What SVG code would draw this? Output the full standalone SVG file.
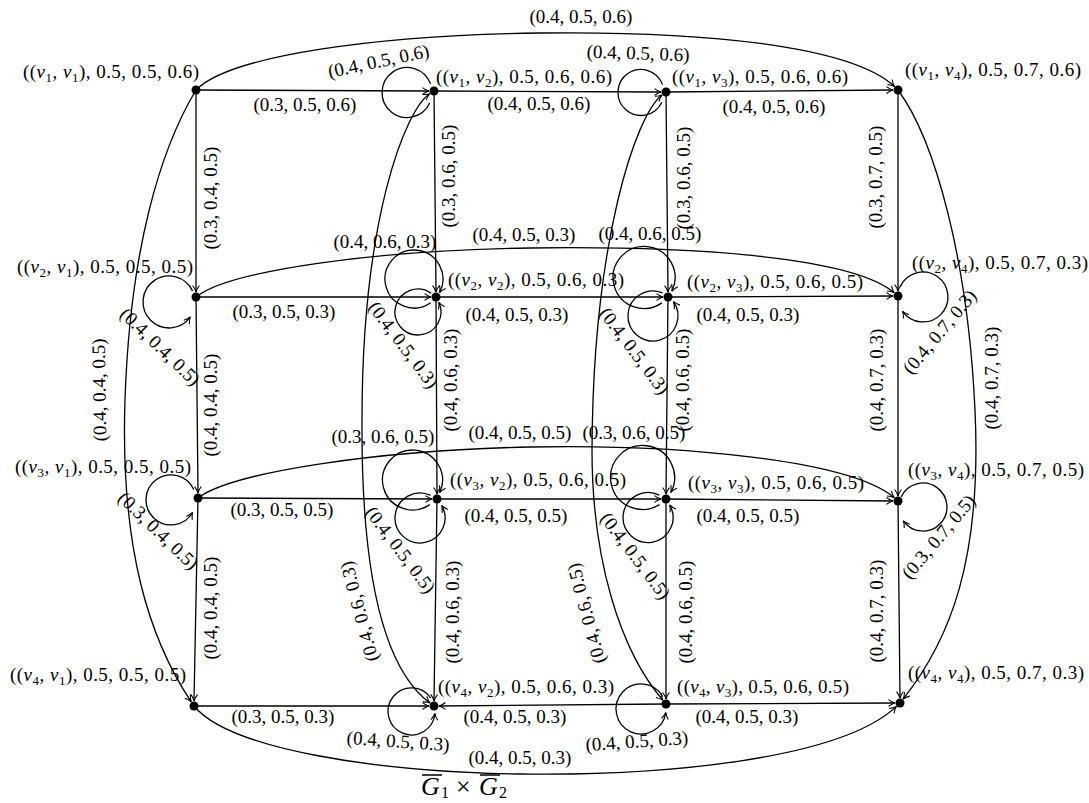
<svg xmlns="http://www.w3.org/2000/svg" width="1089" height="803" viewBox="0 0 1089 803">
<style>
.e{fill:none;stroke:#000;stroke-width:1.3}
.a{marker-end:url(#ar)}
.l{font-family:"Liberation Serif","Times New Roman",serif;font-size:19px;fill:#000}
.i{font-style:italic}
.s{font-size:13px}
.d{fill:#000}
</style>
<defs>
<marker id="ar" viewBox="-7 -5 8 10" refX="0" refY="0" markerWidth="8" markerHeight="10" markerUnits="userSpaceOnUse" orient="auto-start-reverse">
<path d="M-6.5,-3.4 C-3.8,-1.3 -1.6,-0.4 0,0 C-1.6,0.4 -3.8,1.3 -6.5,3.4" fill="none" stroke="#000" stroke-width="1.1"/>
</marker>
</defs>
<rect width="1089" height="803" fill="#fff"/>

<g id="connectors">
<!-- straight horizontal -->
<path class="e a" d="M196,90 L429,91"/>
<path class="e a" d="M434,91 L661,92"/>
<path class="e a" d="M666,92 L893,90"/>
<path class="e a" d="M196,297 L431,297"/>
<path class="e a" d="M436,297 L663,297"/>
<path class="e a" d="M668,297 L893,296"/>
<path class="e a" d="M198,498 L432,499"/>
<path class="e a" d="M437,499 L661,499"/>
<path class="e a" d="M666,499 L893,501"/>
<path class="e a" d="M194,706 L429,706"/>
<path class="e a" d="M666,704 L439,706"/>
<path class="e a" d="M666,704 L895,703"/>
<!-- straight vertical -->
<path class="e a" d="M196,90 L196,292"/>
<path class="e a" d="M196,297 L198,493"/>
<path class="e a" d="M198,498 L194,701"/>
<path class="e a" d="M434,91 L436,292"/>
<path class="e a" d="M436,297 L437,494"/>
<path class="e a" d="M437,499 L434,701"/>
<path class="e a" d="M666,92 L668,292"/>
<path class="e a" d="M668,297 L666,494"/>
<path class="e a" d="M666,499 L666,699"/>
<path class="e a" d="M898,90 L898,291"/>
<path class="e a" d="M898,296 L898,496"/>
<path class="e a" d="M898,501 L900,698"/>
<!-- long curves -->
<path class="e a" d="M196,90 C230,55 380,35 540,33 S850,45 894.5,86.5"/>
<path class="e a" d="M196,297 C230,270 380,250 530,248 S850,255 894.2,292.7"/>
<path class="e a" d="M198,498 C232,472 380,450 530,447 S850,460 894.2,497.7"/>
<path class="e a" d="M194,706 C230,750 380,772 520,774 S840,760 896.4,706.4"/>
<path class="e a" d="M196,90 C160,150 130,250 125,400 S150,640 191.2,701.8"/>
<path class="e a" d="M898,90 C935,140 968,260 975,410 S950,640 903.1,699.1"/>
<path class="e a" style="marker-start:url(#ar)" d="M429.8,93.7 C405,110 362,220 362,420 C361,580 385,670 430,703"/>
<path class="e a" style="marker-start:url(#ar)" d="M662,95 C636,115 593,240 592,450 C592,560 620,650 662.8,700.2"/>
<!-- loops -->
<path class="e" d="M430.5,83.9 A25,25 0 1 0 429.7,103.1"/>
<path class="e" d="M662.6,84.6 A23,23 0 1 0 661.8,102.2"/>
<path class="e a" d="M192.6,291 A26,26 0 1 0 190.3,316.9"/>
<path class="e a" d="M193.7,489.4 A25,25 0 1 0 192.6,512.5"/>
<path class="e a" d="M900.3,286.4 A25,25 0 1 1 902.5,311.3"/>
<path class="e a" d="M901.2,496.9 A24,24 0 1 1 903.3,520.8"/>
<path class="e a" d="M430.6,302.8 A29,29 0 1 1 439.6,292.6"/>
<path class="e a" d="M431.2,293.2 A23,23 0 1 0 438.8,302.3"/>
<path class="e a" d="M661.8,302.9 A31,31 0 1 1 671.9,291.1"/>
<path class="e a" d="M662.4,292.8 A25,25 0 1 0 673.5,301.7"/>
<path class="e a" d="M429.7,504.6 A30,30 0 1 1 439.7,492.7"/>
<path class="e a" d="M430.6,495.3 A25,25 0 1 0 441.7,505.5"/>
<path class="e a" d="M659.5,504.6 A32,32 0 1 1 670.8,492.5"/>
<path class="e a" d="M659.3,495.2 A25,25 0 1 0 669.7,505"/>
<path class="e a" d="M430.8,698 A23.5,23.5 0 1 0 434.9,713.5"/>
<path class="e a" d="M662.7,696.5 A25,25 0 1 0 665.8,712.5"/>

<!-- edge labels -->
<g class="l" text-anchor="middle">
<text x="581" y="23">(0.4, 0.5, 0.6)</text>
<text x="305" y="111">(0.3, 0.5, 0.6)</text>
<text x="539" y="110">(0.4, 0.5, 0.6)</text>
<text x="774" y="113">(0.4, 0.5, 0.6)</text>
<text x="524" y="241">(0.4, 0.5, 0.3)</text>
<text x="284" y="318">(0.3, 0.5, 0.3)</text>
<text x="517" y="321">(0.4, 0.5, 0.3)</text>
<text x="748" y="321">(0.4, 0.5, 0.3)</text>
<text x="520" y="439">(0.4, 0.5, 0.5)</text>
<text x="282" y="516">(0.3, 0.5, 0.5)</text>
<text x="516" y="522">(0.4, 0.5, 0.5)</text>
<text x="748" y="522">(0.4, 0.5, 0.5)</text>
<text x="283" y="723">(0.3, 0.5, 0.3)</text>
<text x="515" y="723">(0.4, 0.5, 0.3)</text>
<text x="747" y="723">(0.4, 0.5, 0.3)</text>
<text x="520" y="764">(0.4, 0.5, 0.3)</text>
<text x="385" y="248">(0.4, 0.6, 0.3)</text>
<text x="650" y="239.5">(0.4, 0.6, 0.5)</text>
<text x="383" y="442.5">(0.3, 0.6, 0.5)</text>
<text x="634" y="438.5">(0.3, 0.6, 0.5)</text>
<text transform="translate(379,63) rotate(-12)" y="4.5">(0.4, 0.5, 0.6)</text>
<text transform="translate(638,55) rotate(2)" y="4.5">(0.4, 0.5, 0.6)</text>
<text transform="translate(398,743) rotate(4)" y="4.5">(0.4, 0.5, 0.3)</text>
<text transform="translate(637,743) rotate(-4)" y="4.5">(0.4, 0.5, 0.3)</text>
<text transform="translate(159,348) rotate(44)" y="4.5">(0.4, 0.4, 0.5)</text>
<text transform="translate(157,532) rotate(44)" y="4.5">(0.3, 0.4, 0.5)</text>
<text transform="translate(402,346) rotate(53)" y="4.5">(0.4, 0.5, 0.3)</text>
<text transform="translate(633,352) rotate(53)" y="4.5">(0.4, 0.5, 0.3)</text>
<text transform="translate(399,551) rotate(53)" y="4.5">(0.4, 0.5, 0.5)</text>
<text transform="translate(634,557) rotate(53)" y="4.5">(0.4, 0.5, 0.5)</text>
<text transform="translate(941,333) rotate(-50)" y="4.5">(0.4, 0.7, 0.3)</text>
<text transform="translate(940,538) rotate(-50)" y="4.5">(0.3, 0.7, 0.5)</text>
<text transform="translate(212.5,198) rotate(-90)" y="4.5">(0.3, 0.4, 0.5)</text>
<text transform="translate(212.5,405) rotate(-90)" y="4.5">(0.4, 0.4, 0.5)</text>
<text transform="translate(212.5,608) rotate(-90)" y="4.5">(0.4, 0.4, 0.5)</text>
<text transform="translate(101,390) rotate(-91)" y="4.5">(0.4, 0.4, 0.5)</text>
<text transform="translate(450.5,176) rotate(-90)" y="4.5">(0.3, 0.6, 0.5)</text>
<text transform="translate(452.5,380) rotate(-90)" y="4.5">(0.4, 0.6, 0.3)</text>
<text transform="translate(454.5,612) rotate(-90)" y="4.5">(0.4, 0.6, 0.3)</text>
<text transform="translate(685.5,178) rotate(-90)" y="4.5">(0.3, 0.6, 0.5)</text>
<text transform="translate(684.5,380) rotate(-90)" y="4.5">(0.4, 0.6, 0.5)</text>
<text transform="translate(687.5,612) rotate(-90)" y="4.5">(0.4, 0.6, 0.5)</text>
<text transform="translate(877.5,177) rotate(-90)" y="4.5">(0.3, 0.7, 0.5)</text>
<text transform="translate(878.5,380) rotate(-90)" y="4.5">(0.4, 0.7, 0.3)</text>
<text transform="translate(878.5,611) rotate(-90)" y="4.5">(0.4, 0.7, 0.3)</text>
<text transform="translate(993.5,378) rotate(-90)" y="4.5">(0.4, 0.7, 0.3)</text>
<text transform="translate(361,611) rotate(-105)" y="4.5">(0.4, 0.6, 0.3)</text>
<text transform="translate(588,613) rotate(-105)" y="4.5">(0.4, 0.6, 0.5)</text>
</g>
</g>

<g id="n11"><circle class="d" cx="196" cy="90" r="4.5"/><text class="l" x="23" y="78" textLength="176">((<tspan class="i">v</tspan><tspan class="s" dy="4">1</tspan><tspan dy="-4">, </tspan><tspan class="i">v</tspan><tspan class="s" dy="4">1</tspan><tspan dy="-4">), 0.5, 0.5, 0.6)</tspan></text></g>
<g id="n12"><circle class="d" cx="434" cy="91" r="4.5"/><text class="l" x="436" y="83" textLength="176">((<tspan class="i">v</tspan><tspan class="s" dy="4">1</tspan><tspan dy="-4">, </tspan><tspan class="i">v</tspan><tspan class="s" dy="4">2</tspan><tspan dy="-4">), 0.5, 0.6, 0.6)</tspan></text></g>
<g id="n13"><circle class="d" cx="666" cy="92" r="4.5"/><text class="l" x="672" y="83" textLength="176">((<tspan class="i">v</tspan><tspan class="s" dy="4">1</tspan><tspan dy="-4">, </tspan><tspan class="i">v</tspan><tspan class="s" dy="4">3</tspan><tspan dy="-4">), 0.5, 0.6, 0.6)</tspan></text></g>
<g id="n14"><circle class="d" cx="898" cy="90" r="4.5"/><text class="l" x="905" y="76" textLength="176">((<tspan class="i">v</tspan><tspan class="s" dy="4">1</tspan><tspan dy="-4">, </tspan><tspan class="i">v</tspan><tspan class="s" dy="4">4</tspan><tspan dy="-4">), 0.5, 0.7, 0.6)</tspan></text></g>
<g id="n21"><circle class="d" cx="196" cy="297" r="4.5"/><text class="l" x="17" y="273" textLength="176">((<tspan class="i">v</tspan><tspan class="s" dy="4">2</tspan><tspan dy="-4">, </tspan><tspan class="i">v</tspan><tspan class="s" dy="4">1</tspan><tspan dy="-4">), 0.5, 0.5, 0.5)</tspan></text></g>
<g id="n22"><circle class="d" cx="436" cy="297" r="4.5"/><text class="l" x="448" y="286" textLength="176">((<tspan class="i">v</tspan><tspan class="s" dy="4">2</tspan><tspan dy="-4">, </tspan><tspan class="i">v</tspan><tspan class="s" dy="4">2</tspan><tspan dy="-4">), 0.5, 0.6, 0.3)</tspan></text></g>
<g id="n23"><circle class="d" cx="668" cy="297" r="4.5"/><text class="l" x="687" y="288" textLength="176">((<tspan class="i">v</tspan><tspan class="s" dy="4">2</tspan><tspan dy="-4">, </tspan><tspan class="i">v</tspan><tspan class="s" dy="4">3</tspan><tspan dy="-4">), 0.5, 0.6, 0.5)</tspan></text></g>
<g id="n24"><circle class="d" cx="898" cy="296" r="4.5"/><text class="l" x="912" y="269" textLength="176">((<tspan class="i">v</tspan><tspan class="s" dy="4">2</tspan><tspan dy="-4">, </tspan><tspan class="i">v</tspan><tspan class="s" dy="4">4</tspan><tspan dy="-4">), 0.5, 0.7, 0.3)</tspan></text></g>
<g id="n31"><circle class="d" cx="198" cy="498" r="4.5"/><text class="l" x="15" y="473" textLength="176">((<tspan class="i">v</tspan><tspan class="s" dy="4">3</tspan><tspan dy="-4">, </tspan><tspan class="i">v</tspan><tspan class="s" dy="4">1</tspan><tspan dy="-4">), 0.5, 0.5, 0.5)</tspan></text></g>
<g id="n32"><circle class="d" cx="437" cy="499" r="4.5"/><text class="l" x="450" y="486" textLength="176">((<tspan class="i">v</tspan><tspan class="s" dy="4">3</tspan><tspan dy="-4">, </tspan><tspan class="i">v</tspan><tspan class="s" dy="4">2</tspan><tspan dy="-4">), 0.5, 0.6, 0.5)</tspan></text></g>
<g id="n33"><circle class="d" cx="666" cy="499" r="4.5"/><text class="l" x="688" y="489" textLength="176">((<tspan class="i">v</tspan><tspan class="s" dy="4">3</tspan><tspan dy="-4">, </tspan><tspan class="i">v</tspan><tspan class="s" dy="4">3</tspan><tspan dy="-4">), 0.5, 0.6, 0.5)</tspan></text></g>
<g id="n34"><circle class="d" cx="898" cy="501" r="4.5"/><text class="l" x="908" y="476" textLength="176">((<tspan class="i">v</tspan><tspan class="s" dy="4">3</tspan><tspan dy="-4">, </tspan><tspan class="i">v</tspan><tspan class="s" dy="4">4</tspan><tspan dy="-4">), 0.5, 0.7, 0.5)</tspan></text></g>
<g id="n41"><circle class="d" cx="194" cy="706" r="4.5"/><text class="l" x="10" y="681" textLength="176">((<tspan class="i">v</tspan><tspan class="s" dy="4">4</tspan><tspan dy="-4">, </tspan><tspan class="i">v</tspan><tspan class="s" dy="4">1</tspan><tspan dy="-4">), 0.5, 0.5, 0.5)</tspan></text></g>
<g id="n42"><circle class="d" cx="434" cy="706" r="4.5"/><text class="l" x="438" y="693" textLength="176">((<tspan class="i">v</tspan><tspan class="s" dy="4">4</tspan><tspan dy="-4">, </tspan><tspan class="i">v</tspan><tspan class="s" dy="4">2</tspan><tspan dy="-4">), 0.5, 0.6, 0.3)</tspan></text></g>
<g id="n43"><circle class="d" cx="666" cy="704" r="4.5"/><text class="l" x="677" y="693" textLength="172">((<tspan class="i">v</tspan><tspan class="s" dy="4">4</tspan><tspan dy="-4">, </tspan><tspan class="i">v</tspan><tspan class="s" dy="4">3</tspan><tspan dy="-4">), 0.5, 0.6, 0.5)</tspan></text></g>
<g id="n44"><circle class="d" cx="900" cy="703" r="4.5"/><text class="l" x="908" y="679" textLength="176">((<tspan class="i">v</tspan><tspan class="s" dy="4">4</tspan><tspan dy="-4">, </tspan><tspan class="i">v</tspan><tspan class="s" dy="4">4</tspan><tspan dy="-4">), 0.5, 0.7, 0.3)</tspan></text></g>

<g id="title">
<text class="l" y="795" style="font-size:26px"><tspan class="i" x="421">G</tspan><tspan x="441" dy="3" style="font-size:16px">1</tspan><tspan x="456" dy="-3">×</tspan><tspan class="i" x="479">G</tspan><tspan x="499" dy="3" style="font-size:16px">2</tspan></text>
<path class="e" d="M422,775 H442 M480,775 H500"/>
</g>
</svg>
